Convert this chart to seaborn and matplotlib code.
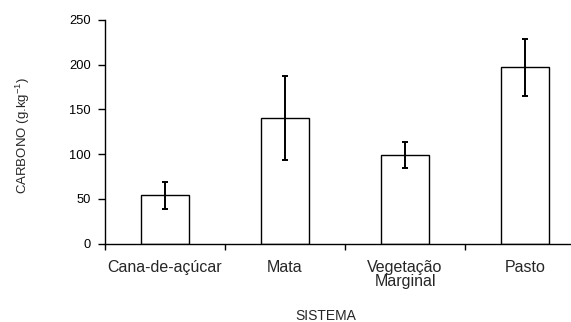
import matplotlib
matplotlib.use("Agg")
import matplotlib.pyplot as plt
import seaborn as sns
import pandas as pd
import numpy as np
from matplotlib.ticker import FixedLocator

# Data
categories = ["Cana-de-açúcar", "Mata", "Vegetação\nMarginal", "Pasto"]
carbono = [54, 140.5, 99, 197]
erro = [15.5, 47, 14.5, 31.5]
y_ticks = [0, 50, 100, 150, 200, 250]

sns.set_style("ticks")
plt.rcParams["font.family"] = ["Liberation Sans", "DejaVu Sans"]
plt.rcParams["mathtext.fontset"] = "custom"
plt.rcParams["mathtext.rm"] = "Liberation Sans"
plt.rcParams["mathtext.it"] = "Liberation Sans:italic"

df = pd.DataFrame({"SISTEMA": categories, "CARBONO": carbono})

fig = plt.figure(figsize=(5.71, 3.22), dpi=100)
ax = fig.add_axes([105 / 571, 1 - 243.7 / 322, 480 / 571, 223.7 / 322])

sns.barplot(data=df, x="SISTEMA", y="CARBONO", ax=ax, color="white",
            edgecolor="black", linewidth=1.0, width=0.4, errorbar=None,
            saturation=1)
ax.errorbar(np.arange(len(categories)), carbono, yerr=erro, fmt="none",
            ecolor="black", elinewidth=1.4, capsize=2.5, capthick=1.4)

ax.set_xlim(-0.5, 3.5)
ax.set_ylim(0, 250)
ax.set_yticks(y_ticks)
ax.set_yticklabels([str(v) for v in y_ticks], fontsize=9.3)
ax.tick_params(axis="y", direction="out", length=5, width=1, pad=5, colors="black")

ax.set_xticks(range(len(categories)))
ax.set_xticklabels(categories, fontsize=11.5, linespacing=0.85)
ax.tick_params(axis="x", which="major", length=0, pad=12)
ax.xaxis.set_minor_locator(FixedLocator([-0.5, 0.5, 1.5, 2.5, 3.5]))
ax.tick_params(axis="x", which="minor", direction="out", length=4.5, width=1, color="black")

for s in ["top", "right"]:
    ax.spines[s].set_visible(False)
for s in ["left", "bottom"]:
    ax.spines[s].set_linewidth(1.0)
    ax.spines[s].set_color("black")

ax.set_ylabel("CARBONO (g.kg$^{-1}$)", fontsize=9.5)
ax.yaxis.set_label_coords(-0.153, 0.485)
ax.set_xlabel("SISTEMA", fontsize=10)
ax.xaxis.set_label_coords(0.46, -0.292)

fig.savefig("out.png", dpi=100)
